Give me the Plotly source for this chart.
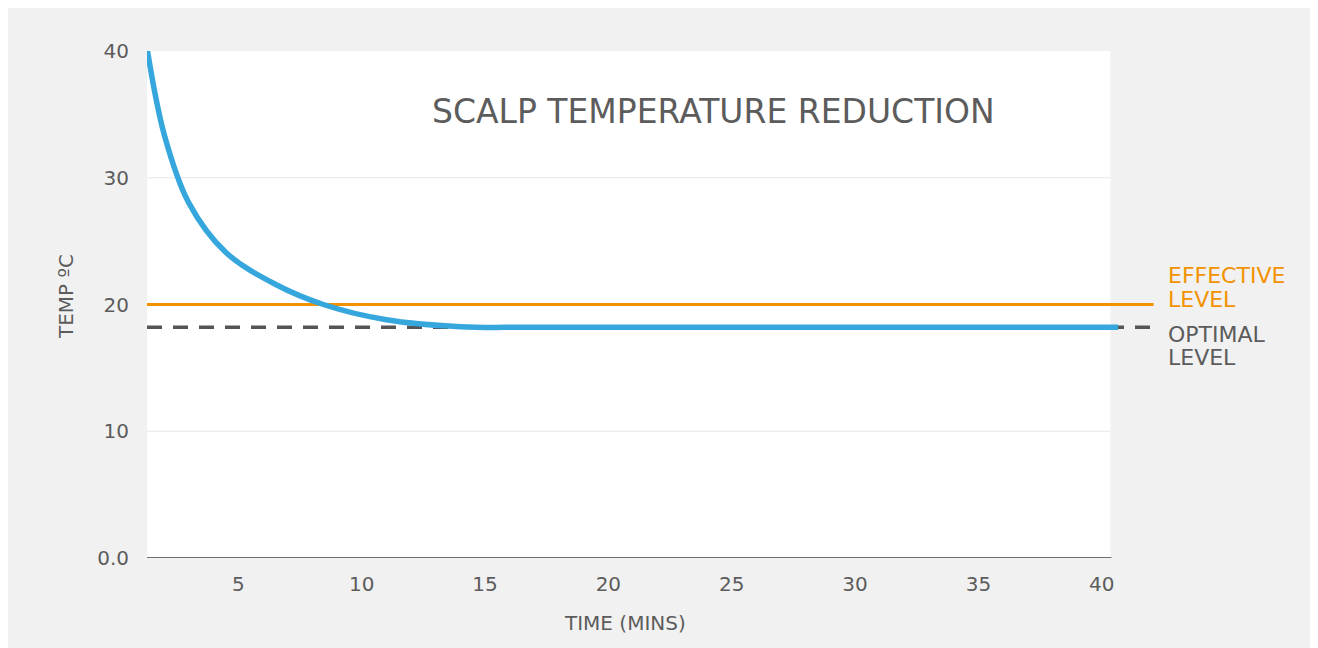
import plotly.graph_objects as go

# ---- data ----
time_mins = [1.32, 2.0, 3.0, 4.5, 6.5, 8.45, 11.0, 14.0, 17.0, 40.66]
scalp_temp = [40.0, 33.4, 28.0, 24.1, 21.6, 20.0, 18.8, 18.25, 18.2, 18.2]
effective_level = 20.0
optimal_level = 18.2
x_ticks = [5, 10, 15, 20, 25, 30, 35, 40]
y_ticks = [0, 10, 20, 30, 40]
y_tick_text = ["0.0", "10", "20", "30", "40"]
level_x = [1.30, 42.1]
white_x = [1.30, 40.35]

FONT = "DejaVu Sans"
TXT = "#5c5c5c"
BG = "#f1f1f1"
ORANGE = "#f39200"

# plot-area geometry (pixels, relative to figure)
L, R, T, B = 139, 1152, 43, 550


def px(xp):
    return (xp - L) / (R - L)


def py(yp):
    return (B - yp) / (B - T)


fig = go.Figure()

fig.add_trace(go.Scatter(x=level_x, y=[optimal_level, optimal_level], mode="lines",
                         line=dict(color="#555555", width=3.5, dash="15px,11px"),
                         hoverinfo="skip", showlegend=False))
fig.add_trace(go.Scatter(x=level_x, y=[effective_level, effective_level], mode="lines",
                         line=dict(color=ORANGE, width=3),
                         hoverinfo="skip", showlegend=False))
fig.add_trace(go.Scatter(x=time_mins, y=scalp_temp, mode="lines",
                         line=dict(color="#35a7dd", width=5.5, shape="spline", smoothing=1.0),
                         showlegend=False))

shapes = [
    dict(type="rect", xref="x", yref="y", x0=white_x[0], x1=white_x[1], y0=0, y1=40,
         fillcolor="white", line=dict(width=0), layer="below"),
]
for gy in [10, 30]:
    shapes.append(dict(type="line", xref="x", yref="y", x0=white_x[0], x1=white_x[1],
                       y0=gy, y1=gy, line=dict(color="#e6e6e6", width=1.2), layer="below"))
shapes.append(dict(type="line", xref="x", yref="y", x0=white_x[0], x1=white_x[1] + 0.04,
                   y0=0, y1=0, line=dict(color="#6e6e6e", width=2), layer="above"))

annotations = [
    dict(text="SCALP TEMPERATURE REDUCTION", xref="paper", yref="paper",
         x=px(705), y=py(104), showarrow=False,
         font=dict(family=FONT, size=33, color=TXT), xanchor="center", yanchor="middle"),
    dict(text="EFFECTIVE", xref="paper", yref="paper", x=px(1158), y=py(267),
         showarrow=False, font=dict(family=FONT, size=22, color=ORANGE),
         xanchor="left", yanchor="middle"),
    dict(text="LEVEL", xref="paper", yref="paper", x=px(1158), y=py(291),
         showarrow=False, font=dict(family=FONT, size=22, color=ORANGE),
         xanchor="left", yanchor="middle"),
    dict(text="OPTIMAL", xref="paper", yref="paper", x=px(1158), y=py(326),
         showarrow=False, font=dict(family=FONT, size=22, color=TXT),
         xanchor="left", yanchor="middle"),
    dict(text="LEVEL", xref="paper", yref="paper", x=px(1158), y=py(349),
         showarrow=False, font=dict(family=FONT, size=22, color=TXT),
         xanchor="left", yanchor="middle"),
    # axis titles
    dict(text="TIME (MINS)", xref="paper", yref="paper", x=px(617), y=py(615),
         showarrow=False, font=dict(family=FONT, size=20, color=TXT),
         xanchor="center", yanchor="middle"),
    dict(text="TEMP ºC", xref="paper", yref="paper", x=px(58), y=py(289), textangle=-90,
         showarrow=False, font=dict(family=FONT, size=20, color=TXT),
         xanchor="center", yanchor="middle"),
]

fig.update_layout(
    width=1318, height=648,
    margin=dict(l=L, r=1318 - R, t=T, b=648 - B),
    paper_bgcolor=BG,
    plot_bgcolor="rgba(0,0,0,0)",
    shapes=shapes,
    annotations=annotations,
    font=dict(family=FONT, color=TXT),
    xaxis=dict(range=[1.30, 42.36], tickvals=x_ticks, showgrid=False, zeroline=False,
               showline=False, ticks="", tickfont=dict(size=20, color=TXT),
               ticklabelstandoff=12),
    yaxis=dict(range=[0, 40], tickvals=y_ticks, ticktext=y_tick_text, showgrid=False,
               zeroline=False, showline=False, ticks="", tickfont=dict(size=20, color=TXT),
               ticklabelstandoff=17),
)

fig.write_html("out.html")
